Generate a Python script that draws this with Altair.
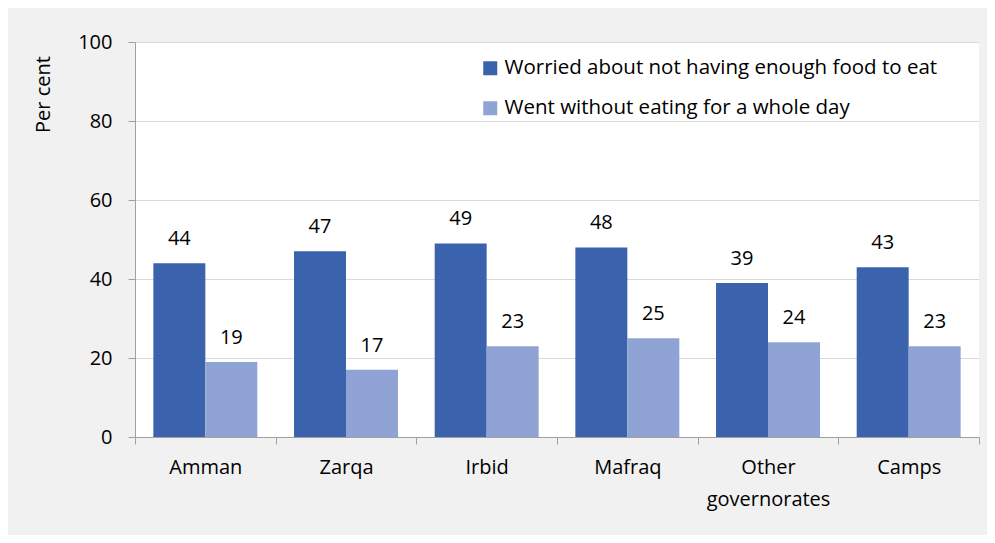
import altair as alt
import pandas as pd

categories = ["Amman", "Zarqa", "Irbid", "Mafraq", "Other\ngovernorates", "Camps"]
series = ["Worried about not having enough food to eat", "Went without eating for a whole day"]
worried = [44, 47, 49, 48, 39, 43]
went_without = [19, 17, 23, 25, 24, 23]
colors = ["#3b63ad", "#8fa3d5"]
y_ticks = [0, 20, 40, 60, 80, 100]

rows = []
for c, a, b in zip(categories, worried, went_without):
    rows.append({"cat": c, "series": series[0], "value": a})
    rows.append({"cat": c, "series": series[1], "value": b})
df = pd.DataFrame(rows)

FONT = "Open Sans"
FS = 20

x = alt.X("cat:N", sort=categories, title=None,
          scale=alt.Scale(paddingInner=0, paddingOuter=0),
          axis=alt.Axis(labelAngle=0, labelExpr="split(datum.label, '\\n')",
                        labelLineHeight=32, labelPadding=13, tickSize=7,
                        tickBand="extent", grid=False, domainColor="#a0a0a0",
                        tickColor="#a0a0a0", labelFont=FONT, labelFontSize=FS,
                        labelColor="#000000", labelBaseline="top"))
xo = alt.XOffset("series:N", sort=series,
                 scale=alt.Scale(paddingInner=0, paddingOuter=0.353))
y = alt.Y("value:Q", title="Per cent",
          scale=alt.Scale(domain=[0, 100], nice=False),
          axis=alt.Axis(values=y_ticks, tickSize=7, labelPadding=16,
                        gridColor="#d9d9d9", domainColor="#a0a0a0",
                        tickColor="#a0a0a0", labelFont=FONT, labelFontSize=FS,
                        labelColor="#000000", titleFont=FONT, titleFontSize=FS,
                        titleFontWeight="normal", titleColor="#000000",
                        titleX=-82, titleY=52, titleAlign="center"))
color = alt.Color("series:N", sort=series,
                  scale=alt.Scale(domain=series, range=colors),
                  legend=alt.Legend(title=None, orient="none", legendX=345, legendY=16,
                                    symbolType="square", symbolSize=196,
                                    symbolStrokeWidth=0, rowPadding=19,
                                    labelFont=FONT, labelFontSize=20.5,
                                    labelColor="#000000", labelOffset=4,
                                    labelLimit=600))

bars = alt.Chart(df).mark_bar().encode(x=x, xOffset=xo, y=y, color=color)
labels = alt.Chart(df).mark_text(baseline="alphabetic", dy=-18, font=FONT,
                                 fontSize=FS, color="#000000").encode(
    x=x, xOffset=xo, y=y, text=alt.Text("value:Q"))

chart = alt.layer(bars, labels).properties(
    width=844, height=395,
    padding={"left": 127, "top": 34, "right": 8, "bottom": 98},
    autosize=alt.AutoSizeParams(type="none"),
    background="#f1f1f1",
).configure_view(fill="#ffffff", stroke=None)

chart.save("out.html", embed_options={"renderer": "svg", "actions": False})
